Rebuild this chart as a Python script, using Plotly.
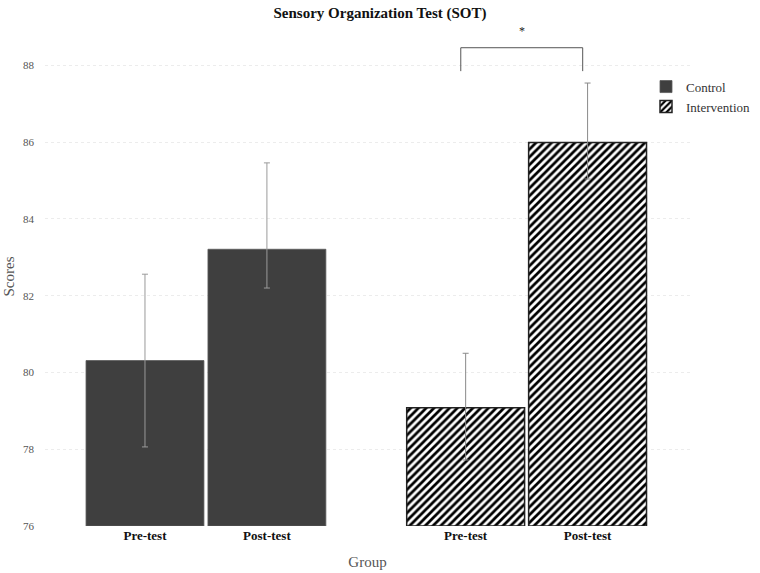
import plotly.graph_objects as go

# ---- data ----
groups = ["Control", "Intervention"]
phases = ["Pre-test", "Post-test"]
control_means = [80.31, 83.21]
control_err_plus = [2.25, 2.25]
control_err_minus = [2.25, 1.01]
intervention_means = [79.08, 85.99]
intervention_err_plus = [1.42, 1.55]
intervention_err_minus = [1.36, 0.95]
y_ticks = [76, 78, 80, 82, 84, 86, 88]
sig_label = "*"
bracket_low, bracket_high, star_level = 87.85, 88.46, 88.9

# ---- layout helpers ----
group_gap = 2.63
bar_w = 0.967
def positions(g):
    return [g * group_gap + p for p in range(len(phases))]

serif = "Liberation Serif, Times New Roman, serif"
fig = go.Figure()
fig.add_trace(go.Bar(
    name=groups[0], x=positions(0), y=[m - 76 for m in control_means], base=76,
    width=bar_w,
    marker=dict(color="#3f3f3f", line=dict(color="#5a5a5a", width=0.8)),
    error_y=dict(type="data", symmetric=False, array=control_err_plus,
                 arrayminus=control_err_minus, color="#9a9a9a", thickness=1, width=3),
))
fig.add_trace(go.Bar(
    name=groups[1], x=positions(1), y=[m - 76 for m in intervention_means], base=76,
    width=bar_w,
    marker=dict(color="white", line=dict(color="#222", width=1.5),
                pattern=dict(shape="/", fgcolor="black", bgcolor="white", size=5.5, solidity=0.5,
                             fgopacity=1)),
    error_y=dict(type="data", symmetric=False, array=intervention_err_plus,
                 arrayminus=intervention_err_minus, color="#8a8a8a", thickness=1, width=3),
))

# significance bracket
ip = positions(1)
xl, xr = ip[0] - 0.04, ip[1] - 0.04
fig.add_shape(type="path",
              path=f"M {xl},{bracket_low} L {xl},{bracket_high} L {xr},{bracket_high} L {xr},{bracket_low}",
              line=dict(color="#555", width=1), xref="x", yref="y")
fig.add_annotation(x=(xl + xr) / 2, y=star_level, text=sig_label, showarrow=False,
                   font=dict(family=serif, size=12, color="#222"))

tickvals = positions(0) + positions(1)
ticktext = phases + phases
fig.update_layout(
    width=760, height=573,
    margin=dict(l=45, r=70, t=27, b=47, autoexpand=False),
    plot_bgcolor="white", paper_bgcolor="white",
    barmode="overlay",
    title=dict(text="<b>Sensory Organization Test (SOT)</b>", x=0.5, xanchor="center",
               y=0.978, yanchor="middle", font=dict(family=serif, size=15, color="#111")),
    font=dict(family=serif),
    xaxis=dict(range=[-0.82, 4.47], tickvals=tickvals, ticktext=[f"<b>{t}</b>" for t in ticktext],
               tickfont=dict(family=serif, size=13, color="#111"), showgrid=False, zeroline=False,
               showline=False, ticks="", automargin=False,
               title=dict(text="Group", font=dict(family=serif, size=15, color="#555"), standoff=14)),
    yaxis=dict(range=[76, 89], tickvals=y_ticks, tickfont=dict(family=serif, size=11, color="#555"),
               showgrid=True, gridcolor="#ececec", gridwidth=1, griddash="dot", zeroline=False,
               showline=False, ticks="", ticklabelstandoff=10, automargin=False,
               title=dict(text="Scores", font=dict(family=serif, size=15, color="#555"), standoff=4)),
    legend=dict(xref="container", yref="container", x=0.85, y=0.875, xanchor="left", yanchor="top",
                bgcolor="rgba(0,0,0,0)", font=dict(family=serif, size=13, color="#333"),
                itemwidth=30, tracegroupgap=4),
    showlegend=True,
)
fig.write_html("out.html", config={"displayModeBar": False},
               post_script="document.body.style.margin='0';document.body.style.overflow='hidden';")
